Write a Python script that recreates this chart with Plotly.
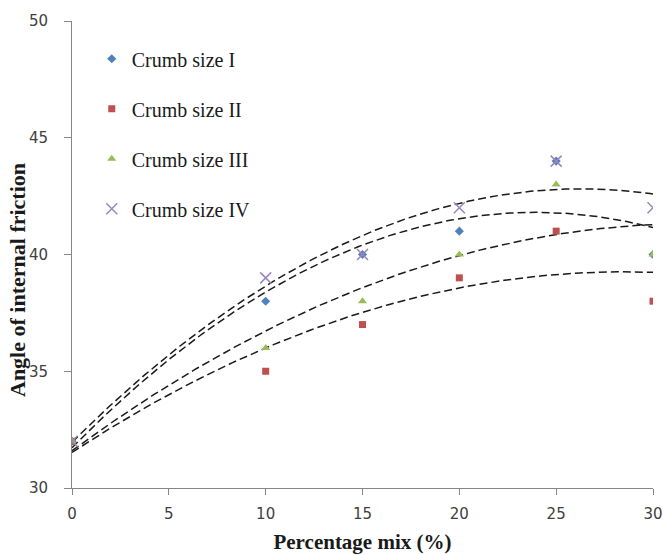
import numpy as np
import plotly.graph_objects as go

pct_mix = [0, 10, 15, 20, 25, 30]
crumb_I = [32, 38, 40, 41, 44, 40]
crumb_II = [32, 35, 37, 39, 41, 38]
crumb_III = [32, 36, 38, 40, 43, 40]
crumb_IV = [32, 39, 40, 42, 44, 42]
series_names = ["Crumb size I", "Crumb size II", "Crumb size III", "Crumb size IV"]
x_ticks = [0, 5, 10, 15, 20, 25, 30]
y_ticks = [30, 35, 40, 45, 50]

series = [crumb_I, crumb_II, crumb_III, crumb_IV]
colors = ["#4F81BD", "#C0504D", "#9BBB59", "#9A86BC"]
symbols = ["diamond", "square", "triangle-up", "x-thin-open"]
sizes = [7, 7, 8, 11]

fig = go.Figure()

# polynomial (order 2) trendlines, as in the spreadsheet chart
xs = np.linspace(min(pct_mix), max(pct_mix), 200)
for ys in series:
    c = np.polyfit(pct_mix, ys, 2)
    fig.add_trace(go.Scatter(x=xs, y=np.polyval(c, xs), mode="lines",
                             line=dict(color="#1a1a1a", width=1.5, dash="8px,4px"),
                             showlegend=False, hoverinfo="skip"))

for i, (ys, name) in enumerate(zip(series, series_names)):
    fig.add_trace(go.Scatter(
        x=pct_mix, y=ys, mode="markers", name=name, legendgroup=f"g{i}",
        marker=dict(symbol=symbols[i], size=sizes[i], color=colors[i],
                    line=dict(color=colors[i], width=1.5 if i == 3 else 0)),
    ))

axis_common = dict(showline=True, linecolor="#868686", linewidth=1,
                   ticks="outside", tickcolor="#868686",
                   showgrid=False, zeroline=False, automargin=False,
                   tickfont=dict(family="DejaVu Sans", size=15, color="#404040"))

title_font = dict(family="Liberation Serif", color="#1a1a1a", weight="bold")

fig.update_layout(
    width=663, height=555,
    margin=dict(l=72, r=10, t=21, b=67),
    paper_bgcolor="white", plot_bgcolor="white",
    xaxis=dict(range=[0, 30], tickvals=x_ticks, ticklen=6,
               title=dict(text="Percentage mix (%)", standoff=12,
                          font=dict(size=21, **title_font)),
               ticklabelstandoff=6, **axis_common),
    yaxis=dict(range=[30, 50], tickvals=y_ticks, ticklen=7,
               ticklabelstandoff=13, **axis_common),
    legend=dict(x=0.034, y=0.961, xanchor="left", yanchor="top",
                font=dict(family="Liberation Serif", size=20, color="#1a1a1a"),
                tracegroupgap=21, bgcolor="rgba(0,0,0,0)", itemwidth=30),
    showlegend=True,
    annotations=[dict(text="Angle of internal friction", textangle=-90,
                      xref="paper", yref="paper", x=-(72 - 17) / 581, y=(488 - 280) / 467,
                      xanchor="center", yanchor="middle", showarrow=False,
                      font=dict(size=22, **title_font))],
)

fig.write_html("out.html")
